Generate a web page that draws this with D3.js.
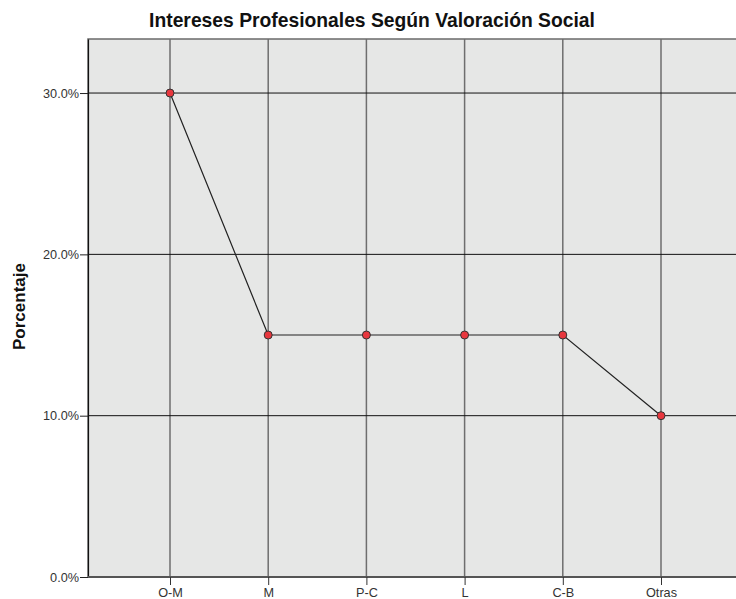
<!DOCTYPE html>
<html>
<head>
<meta charset="utf-8">
<script src="https://cdn.jsdelivr.net/npm/d3@7"></script>
<style>
body { margin: 0; background: #fff; }
text { font-family: "Liberation Sans", Arial, sans-serif; }
</style>
</head>
<body>
<svg id="chart" width="736" height="599"></svg>
<script>
// data
var categories = ['O-M', 'M', 'P-C', 'L', 'C-B', 'Otras'];
var values = [30, 15, 15, 15, 15, 10];
var yTicks = [0, 10, 20, 30];

// layout
var plotLeft = 88, plotRight = 743, plotTop = 39, plotBottom = 577;
var labelFont = '"Liberation Sans", Arial, sans-serif';

var svg = d3.select('#chart');

var x = d3.scalePoint()
	.domain(categories)
	.range([170, 661]);
var y = d3.scaleLinear()
	.domain([0, 33.35])
	.range([plotBottom, plotTop]);

// plot background
svg.append('rect')
	.attr('x', plotLeft)
	.attr('y', plotTop)
	.attr('width', plotRight - plotLeft)
	.attr('height', plotBottom - plotTop)
	.attr('fill', '#e6e7e6')
	.attr('stroke', '#6b6b6b')
	.attr('stroke-width', 1.5);

// vertical grid
svg.append('g').selectAll('line')
	.data(categories)
	.enter().append('line')
	.attr('x1', function(d) { return x(d); })
	.attr('x2', function(d) { return x(d); })
	.attr('y1', plotTop)
	.attr('y2', plotBottom)
	.attr('stroke', '#6e6e6e')
	.attr('stroke-width', 1.5);

// horizontal grid
svg.append('g').selectAll('line')
	.data(yTicks.filter(function(d) { return d > 0; }))
	.enter().append('line')
	.attr('x1', plotLeft)
	.attr('x2', plotRight)
	.attr('y1', function(d) { return y(d); })
	.attr('y2', function(d) { return y(d); })
	.attr('stroke', '#111')
	.attr('stroke-width', 1);

// y axis
var yAxis = svg.append('g')
	.attr('transform', 'translate(' + plotLeft + ',0)')
	.call(d3.axisLeft(y).tickValues(yTicks).tickSize(8).tickSizeOuter(0).tickPadding(1)
		.tickFormat(function(d) { return d.toFixed(1) + '%'; }));
yAxis.select('.domain').attr('stroke', '#111').attr('stroke-width', 1.2);
yAxis.selectAll('.tick line').attr('stroke', '#222');
yAxis.selectAll('text').attr('font-size', 12.7).attr('fill', '#333')
	.style('font-family', labelFont);

// x axis
var xAxis = svg.append('g')
	.attr('transform', 'translate(0,' + plotBottom + ')')
	.call(d3.axisBottom(x).tickSize(8).tickPadding(3));
xAxis.select('.domain').attr('stroke', '#555').attr('stroke-width', 1.8)
	.attr('d', 'M' + plotLeft + ',0H' + plotRight);
xAxis.selectAll('.tick line').attr('stroke', '#333');
xAxis.selectAll('text').attr('font-size', 12.7).attr('fill', '#333')
	.style('font-family', labelFont);

// line + points
var line = d3.line()
	.x(function(d, i) { return x(categories[i]); })
	.y(function(d) { return y(d); });
svg.append('path')
	.datum(values)
	.attr('d', line)
	.attr('fill', 'none')
	.attr('stroke', '#222')
	.attr('stroke-width', 1.2);
svg.append('g').selectAll('circle')
	.data(values)
	.enter().append('circle')
	.attr('cx', function(d, i) { return x(categories[i]); })
	.attr('cy', function(d) { return y(d); })
	.attr('r', 4)
	.attr('fill', '#e8373e')
	.attr('stroke', '#333')
	.attr('stroke-width', 1);

// title
svg.append('text')
	.attr('x', 372)
	.attr('y', 27)
	.attr('text-anchor', 'middle')
	.attr('font-size', 19.3)
	.attr('font-weight', 'bold')
	.attr('fill', '#111')
	.text('Intereses Profesionales Según Valoración Social');

// y label
svg.append('text')
	.attr('transform', 'translate(25,306.5) rotate(-90)')
	.attr('text-anchor', 'middle')
	.attr('font-size', 17)
	.attr('font-weight', 'bold')
	.attr('fill', '#111')
	.text('Porcentaje');
</script>
</body>
</html>
